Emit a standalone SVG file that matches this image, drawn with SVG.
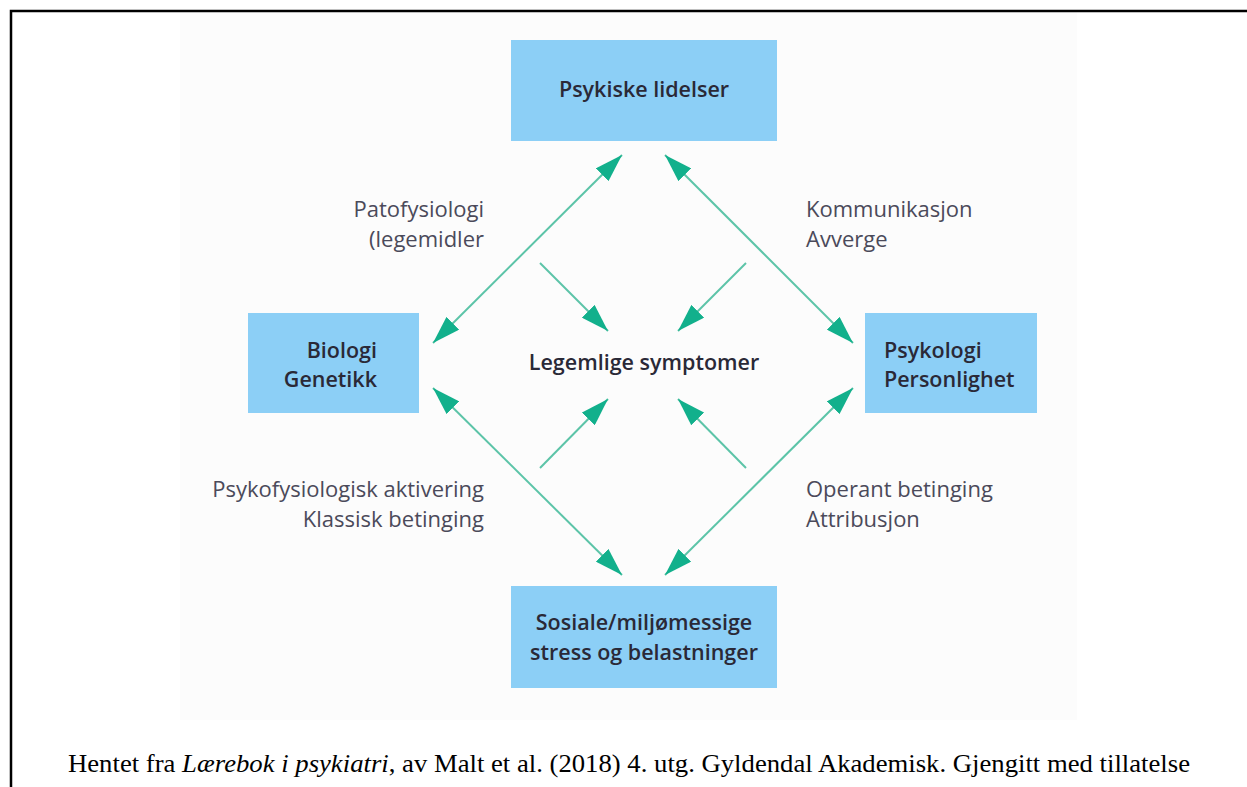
<svg xmlns="http://www.w3.org/2000/svg" width="1247" height="787" viewBox="0 0 1247 787">
  <defs>
    <style>
      .box { fill: #8ccff6; }
      .bold { font-family: "Open Sans", Lato, "Liberation Sans", sans-serif; font-weight: 600; font-size: 21.5px; fill: #2a2937; }
      .lbl { font-family: "Open Sans", Lato, "Liberation Sans", sans-serif; font-size: 22px; fill: #4b4a5a; }
      .conn { stroke: #5cc4a8; stroke-width: 2; fill: none; }
      .cap { font-family: "Liberation Serif", "Times New Roman", serif; font-size: 25px; fill: #000; }
    </style>
    <marker id="head" viewBox="0 0 28 18" refX="28" refY="9" markerWidth="28" markerHeight="18" markerUnits="userSpaceOnUse" orient="auto-start-reverse">
      <path d="M0,0 L28,9 L0,18 z" fill="#12b08c"/>
    </marker>
  </defs>

  <rect x="0" y="0" width="1247" height="787" fill="#ffffff"/>
  <rect x="180" y="12" width="897" height="708" fill="#fcfcfc"/>
  <path d="M11,787 L11,11 L1247,11" fill="none" stroke="#000" stroke-width="2.5"/>

  <g id="connectors">
    <line class="conn" x1="433" y1="343" x2="622" y2="155" marker-start="url(#head)" marker-end="url(#head)"/>
    <line class="conn" x1="665" y1="155" x2="853" y2="343" marker-start="url(#head)" marker-end="url(#head)"/>
    <line class="conn" x1="433" y1="388" x2="622" y2="575" marker-start="url(#head)" marker-end="url(#head)"/>
    <line class="conn" x1="665" y1="575" x2="853" y2="388" marker-start="url(#head)" marker-end="url(#head)"/>
    <line class="conn" x1="540" y1="263" x2="608" y2="331" marker-end="url(#head)"/>
    <line class="conn" x1="746" y1="263" x2="678" y2="331" marker-end="url(#head)"/>
    <line class="conn" x1="540" y1="468" x2="608" y2="399" marker-end="url(#head)"/>
    <line class="conn" x1="746" y1="468" x2="678" y2="399" marker-end="url(#head)"/>
  </g>

  <g id="node-psykiske">
    <rect class="box" x="511" y="40" width="266" height="101"/>
    <text class="bold" x="644" y="97" text-anchor="middle">Psykiske lidelser</text>
  </g>

  <g id="node-biologi">
    <rect class="box" x="248" y="313" width="171" height="100"/>
    <text class="bold" x="377" y="358" text-anchor="end">Biologi</text>
    <text class="bold" x="377" y="387" text-anchor="end">Genetikk</text>
  </g>

  <g id="node-psykologi">
    <rect class="box" x="865" y="313" width="172" height="100"/>
    <text class="bold" x="884" y="358">Psykologi</text>
    <text class="bold" x="884" y="387">Personlighet</text>
  </g>

  <g id="node-sosiale">
    <rect class="box" x="511" y="586" width="266" height="102"/>
    <text class="bold" x="644" y="630" text-anchor="middle">Sosiale/miljømessige</text>
    <text class="bold" x="644" y="660" text-anchor="middle">stress og belastninger</text>
  </g>

  <g id="node-legemlige">
    <text class="bold" x="644" y="370" text-anchor="middle">Legemlige symptomer</text>
  </g>

  <g id="labels">
    <text class="lbl" x="484" y="217" text-anchor="end">Patofysiologi</text>
    <text class="lbl" x="484" y="247" text-anchor="end">(legemidler</text>
    <text class="lbl" x="806" y="217">Kommunikasjon</text>
    <text class="lbl" x="806" y="247">Avverge</text>
    <text class="lbl" x="484" y="497" text-anchor="end">Psykofysiologisk aktivering</text>
    <text class="lbl" x="484" y="527" text-anchor="end">Klassisk betinging</text>
    <text class="lbl" x="806" y="497">Operant betinging</text>
    <text class="lbl" x="806" y="527">Attribusjon</text>
  </g>

  <text class="cap" x="68" y="772" textLength="1122" lengthAdjust="spacingAndGlyphs">Hentet fra <tspan font-style="italic">Lærebok i psykiatri</tspan>, av Malt et al. (2018) 4. utg. Gyldendal Akademisk. Gjengitt med tillatelse</text>
</svg>
